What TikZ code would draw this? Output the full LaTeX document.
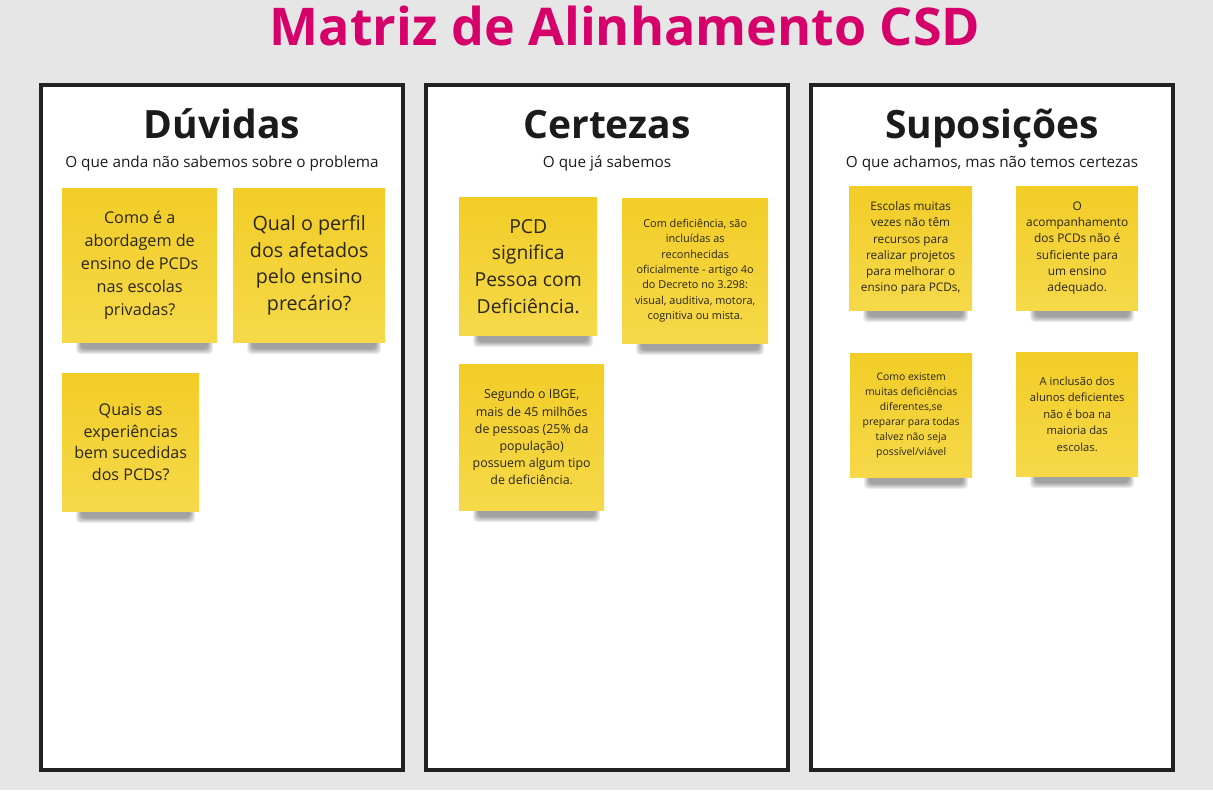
\documentclass[tikz,border=0pt]{standalone}
\usepackage{fontspec}
\setmainfont{Open Sans}
\usepackage{tikz}
\definecolor{canvas}{HTML}{E6E6E6}
\definecolor{framec}{HTML}{222222}
\definecolor{titlec}{HTML}{D6006B}
\definecolor{inkc}{HTML}{1B1B1B}
\definecolor{notec}{HTML}{2A2618}
\definecolor{stickyT}{HTML}{F2CD27}
\definecolor{stickyB}{HTML}{F6D94A}

\tikzset{
  panel/.style={draw=framec, line width=4pt, fill=white},
  sticky/.style={anchor=north west, inner sep=2pt, align=center,
    top color=stickyT, bottom color=stickyB, text=notec},
  heading/.style={anchor=base, text=inkc, font=\bfseries\fontsize{39}{44}\selectfont},
  subhead/.style={anchor=base, text=inkc, font=\fontsize{15.3}{18}\selectfont}
}

\begin{document}
\begin{tikzpicture}[x=1pt,y=-1pt]
    \fill[canvas] (0,0) rectangle (1213,790);
    \useasboundingbox (0,0) rectangle (1213,790);
    \node[anchor=base, text=titlec, font=\bfseries\fontsize{52}{56}\selectfont] (title)
      at (625,45) {Matriz de Alinhamento CSD};
    \foreach \n/\x/\head/\sub in {%
      duv/41/Dúvidas/O que anda não sabemos sobre o problema,
      cer/426/Certezas/O que já sabemos,
      sup/811/Suposições/{O que achamos, mas não temos certezas}}{
      \draw[panel] (\x,85) rectangle (\x+362,770);
      \node[heading] (\n-head) at (\x+181,138) {\head};
      \node[subhead] (\n-sub) at (\x+181,167) {\sub};}
    % post-its: name/x/y/w/h/size/lead/text
    \foreach \n/\x/\y/\w/\h/\fs/\ls/\txt in {%
      s1/62/188/155/154/16.2/22.8/{Como é a\\abordagem de\\ensino de PCDs\\nas escolas\\privadas?},
      s2/233/188/152/154/19.7/26.7/{Qual o perfil\\dos afetados\\pelo ensino\\precário?},
      s3/62/373/137/138/16.1/21.8/{Quais as\\experiências\\bem sucedidas\\dos PCDs?},
      s4/459/197/138/138/19.3/26.7/{PCD\\significa\\Pessoa com\\Deficiência.},
      s5/622/198/146/145/10.9/15.4/{Com deficiência, são\\incluídas as\\reconhecidas\\oficialmente - artigo 4o\\do Decreto no 3.298:\\visual, auditiva, motora,\\cognitiva ou mista.},
      s6/459/364/145/146/12.4/17.2/{Segundo o IBGE,\\mais de 45 milhões\\de pessoas (25\% da\\população)\\possuem algum tipo\\de deficiência.},
      s7/849/186/123/124/11.8/16.2/{Escolas muitas\\vezes não têm\\recursos para\\realizar projetos\\para melhorar o\\ensino para PCDs,},
      s8/1016/186/122/124/11.9/16.2/{O\\acompanhamento\\dos PCDs não é\\suficiente para\\um ensino\\adequado.},
      s9/850/353/122/124/10.4/14.9/{Como existem\\muitas deficiências\\diferentes,se\\preparar para todas\\talvez não seja\\possível/viável},
      s10/1016/352/122/124/11.2/16.5/{A inclusão dos\\alunos deficientes\\não é boa na\\maioria das\\escolas.}}{
      \foreach \k in {0,...,5}
        \fill[black, opacity=0.07, rounded corners=4pt]
          (\x+14+\k,\y+\h-20+\k) rectangle (\x+\w-4-\k,\y+\h+12-\k);
      \node[sticky, minimum width=\w pt, minimum height=\h pt,
        font=\fontsize{\fs}{\ls}\selectfont] (\n) at (\x,\y) {\txt};}
  \end{tikzpicture}
\end{document}
